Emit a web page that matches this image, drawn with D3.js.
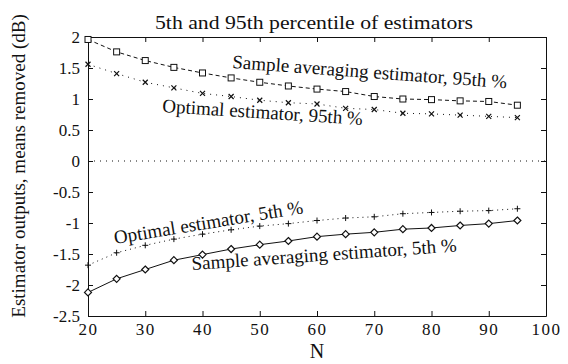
<!DOCTYPE html>
<html>
<head>
<meta charset="utf-8">
<script src="https://cdn.jsdelivr.net/npm/d3@7"></script>
<style>
  body { margin: 0; background: #fff; }
  svg text { font-family: "Liberation Serif", "DejaVu Serif", serif; fill: #111; }
</style>
</head>
<body>
<div id="chart"></div>
<script>
// N values and the four percentile curves (dB)
const nValues = [20, 25, 30, 35, 40, 45, 50, 55, 60, 65, 70, 75, 80, 85, 90, 95];
const sampleAvg95 = [1.96, 1.76, 1.62, 1.51, 1.42, 1.34, 1.27, 1.21, 1.16, 1.12, 1.04, 1.00, 0.99, 0.97, 0.96, 0.90];
const optimal95 = [1.56, 1.41, 1.27, 1.18, 1.09, 1.04, 0.98, 0.94, 0.92, 0.85, 0.83, 0.77, 0.76, 0.74, 0.72, 0.70];
const optimal5 = [-1.68, -1.48, -1.36, -1.26, -1.18, -1.11, -1.05, -1.01, -0.96, -0.92, -0.90, -0.85, -0.83, -0.81, -0.80, -0.77];
const sampleAvg5 = [-2.12, -1.90, -1.75, -1.60, -1.51, -1.42, -1.35, -1.29, -1.22, -1.18, -1.15, -1.10, -1.08, -1.04, -1.01, -0.96];

const xTicks = [20, 30, 40, 50, 60, 70, 80, 90, 100];
const yTicks = [2, 1.5, 1, 0.5, 0, -0.5, -1, -1.5, -2, -2.5];

const width = 568, height = 364;
const margin = { top: 37, right: 22, bottom: 48, left: 88 };

const svg = d3.select('#chart').append('svg')
  .attr('width', width).attr('height', height);

const x = d3.scaleLinear().domain([20, 100]).range([margin.left, width - margin.right]);
const y = d3.scaleLinear().domain([-2.5, 2]).range([height - margin.bottom, margin.top]);

const tickLen = 5;
const fmt = d => String(d);

// axes with inward ticks on all four sides
svg.append('g')
  .attr('transform', `translate(0,${y(-2.5)})`)
  .call(d3.axisBottom(x).tickValues(xTicks).tickSizeInner(-tickLen).tickSizeOuter(0).tickPadding(7).tickFormat(fmt))
  .call(g => g.selectAll('text').attr('font-size', 17).attr('letter-spacing', 1.5));
svg.append('g')
  .attr('transform', `translate(0,${y(2)})`)
  .call(d3.axisTop(x).tickValues(xTicks).tickSizeInner(-tickLen).tickSizeOuter(0).tickFormat(''));
svg.append('g')
  .attr('transform', `translate(${x(20)},0)`)
  .call(d3.axisLeft(y).tickValues(yTicks).tickSizeInner(-tickLen).tickSizeOuter(0).tickPadding(8).tickFormat(fmt))
  .call(g => g.selectAll('text').attr('font-size', 17));
svg.append('g')
  .attr('transform', `translate(${x(100)},0)`)
  .call(d3.axisRight(y).tickValues(yTicks).tickSizeInner(-tickLen).tickSizeOuter(0).tickFormat(''));

svg.selectAll('.domain').attr('stroke', '#111');
svg.selectAll('.tick line').attr('stroke', '#111');

// zero reference line
svg.append('line')
  .attr('x1', x(20)).attr('x2', x(100))
  .attr('y1', y(0)).attr('y2', y(0))
  .attr('stroke', '#111').attr('stroke-dasharray', '1,5');

const line = d3.line().x((d, i) => x(nValues[i])).y(d => y(d));

function drawSeries(values, dash, marker) {
  svg.append('path')
    .datum(values)
    .attr('fill', 'none')
    .attr('stroke', '#111')
    .attr('stroke-width', 1)
    .attr('stroke-dasharray', dash)
    .attr('d', line);

  const g = svg.append('g');
  values.forEach((v, i) => {
    const cx = x(nValues[i]), cy = y(v);
    if (marker === 'square') {
      g.append('rect').attr('x', cx - 3).attr('y', cy - 3).attr('width', 6).attr('height', 6)
        .attr('fill', '#fff').attr('stroke', '#111');
    } else if (marker === 'diamond') {
      g.append('path').attr('d', `M${cx},${cy - 3.5}L${cx + 3.5},${cy}L${cx},${cy + 3.5}L${cx - 3.5},${cy}Z`)
        .attr('fill', '#fff').attr('stroke', '#111').attr('stroke-width', 1.2);
    } else if (marker === 'x') {
      g.append('path').attr('d', `M${cx - 2.5},${cy - 2.5}L${cx + 2.5},${cy + 2.5}M${cx - 2.5},${cy + 2.5}L${cx + 2.5},${cy - 2.5}`)
        .attr('stroke', '#111').attr('stroke-width', 1.2);
    } else if (marker === 'plus') {
      g.append('path').attr('d', `M${cx - 3},${cy}L${cx + 3},${cy}M${cx},${cy - 3}L${cx},${cy + 3}`)
        .attr('stroke', '#111');
    }
  });
}

drawSeries(sampleAvg95, '4,3', 'square');
drawSeries(optimal95, '1,5', 'x');
drawSeries(optimal5, '1,4', 'plus');
drawSeries(sampleAvg5, null, 'diamond');

// curve annotations
function note(text, px, py, angle) {
  svg.append('text')
    .attr('transform', `translate(${px},${py}) rotate(${angle})`)
    .attr('font-size', 19)
    .text(text);
}
note('Sample averaging estimator, 95th %', 232, 68, 4.2);
note('Optimal estimator, 95th %', 162, 112, 3.7);
note('Optimal estimator, 5th %', 115, 244, -9.3);
note('Sample averaging estimator, 5th %', 192, 270, -4);

// title and axis labels
svg.append('text')
  .attr('x', 155).attr('y', 29)
  .attr('font-size', 19)
  .attr('textLength', 318).attr('lengthAdjust', 'spacingAndGlyphs')
  .text('5th and 95th percentile of estimators');
svg.append('text')
  .attr('x', x(60)).attr('y', 358)
  .attr('text-anchor', 'middle').attr('font-size', 20)
  .text('N');
svg.append('text')
  .attr('transform', 'translate(25,166) rotate(-90)')
  .attr('text-anchor', 'middle').attr('font-size', 19)
  .text('Estimator outputs, means removed (dB)');
</script>
</body>
</html>
